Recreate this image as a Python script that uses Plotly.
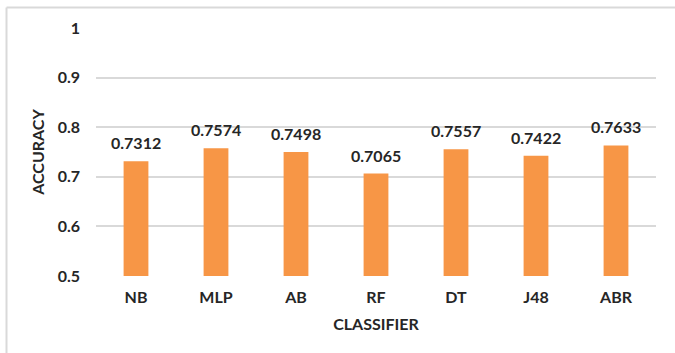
import plotly.graph_objects as go

classifiers = ["NB", "MLP", "AB", "RF", "DT", "J48", "ABR"]
accuracy = [0.7312, 0.7574, 0.7498, 0.7065, 0.7557, 0.7422, 0.7633]
y_ticks = [0.5, 0.6, 0.7, 0.8, 0.9, 1.0]
y_tick_labels = ["0.5", "0.6", "0.7", "0.8", "0.9", "1"]

FONT = "Lato"
TEXT = "#262626"
BAR = "#F79646"
GRID = "#D9D9D9"

W, H = 675, 353
L, R, T, B = 96, 19, 28, 77
pw, ph = W - L - R, H - T - B

fig = go.Figure(
    go.Bar(
        x=classifiers,
        y=accuracy,
        width=0.31,
        marker=dict(color=BAR, line=dict(width=0)),
        hoverinfo="x+y",
    )
)

# value labels above each bar
for name, v in zip(classifiers, accuracy):
    fig.add_annotation(
        x=name, y=v, xref="x", yref="y",
        text=f"{v:.4f}", showarrow=False,
        yanchor="bottom", yshift=7,
        font=dict(family=FONT, size=16, color=TEXT, weight="bold"),
    )

# light frame along the top and left edges of the chart area
x_left = (6.5 - L) / pw
y_top = (H - B - 7.5) / ph
fig.add_shape(type="line", xref="paper", yref="paper", x0=x_left, x1=(W + 10 - L) / pw,
              y0=y_top, y1=y_top, line=dict(color=GRID, width=2))
fig.add_shape(type="line", xref="paper", yref="paper", x0=x_left, x1=x_left,
              y0=y_top, y1=(H - B - H - 10) / ph, line=dict(color=GRID, width=2))

fig.update_layout(
    width=W,
    height=H,
    margin=dict(l=L, r=R, t=T, b=B),
    paper_bgcolor="white",
    plot_bgcolor="white",
    showlegend=False,
    font=dict(family=FONT, color=TEXT),
    xaxis=dict(
        showgrid=False,
        showline=False,
        ticks="",
        ticklabelstandoff=10,
        tickfont=dict(family=FONT, size=16, color=TEXT, weight="bold"),
        title=dict(text="CLASSIFIER", font=dict(family=FONT, size=16, color=TEXT, weight="bold"),
                   standoff=13),
    ),
    yaxis=dict(
        range=[0.5, 1.0],
        tickvals=y_ticks,
        ticktext=y_tick_labels,
        showgrid=True,
        gridcolor=GRID,
        gridwidth=1.5,
        zeroline=False,
        showline=False,
        ticks="",
        ticklabelstandoff=15,
        tickfont=dict(family=FONT, size=16, color=TEXT, weight="bold"),
        title=dict(text="ACCURACY", font=dict(family=FONT, size=16, color=TEXT, weight="bold"),
                   standoff=9),
    ),
)

fig.write_html("out.html")
